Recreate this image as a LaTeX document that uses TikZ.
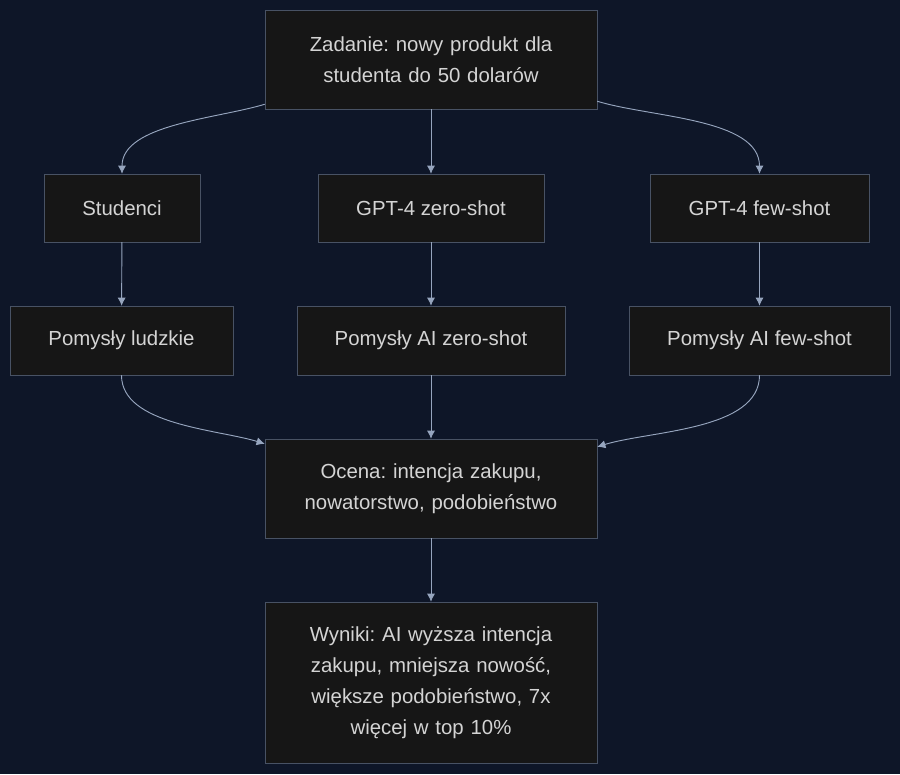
\documentclass[tikz,border=0pt]{standalone}
\usepackage{fontspec}
\setmainfont{Liberation Sans}
\usetikzlibrary{positioning,arrows.meta}
\definecolor{bgc}{RGB}{14,22,40}
\definecolor{boxc}{RGB}{22,22,22}
\definecolor{edgec}{RGB}{72,82,100}
\definecolor{txtc}{RGB}{212,212,212}
\definecolor{arrc}{RGB}{150,165,190}
\tikzset{>={Latex[length=7pt,width=7pt]},
  box/.style={draw=edgec,fill=boxc,text=txtc,inner sep=0pt,align=center,
    font=\fontsize{17.4}{26.5}\selectfont},
  link/.style={draw=arrc,line width=0.8pt,->}}
\begin{document}
\frenchspacing
\begin{tikzpicture}[x=0.03cm,y=-0.03cm]
  % background
  \fill[bgc] (0,0) rectangle (900,774);
  \useasboundingbox (0,0) rectangle (900,774);

  % Draw boxes
  \node[box,minimum width=9.96cm,minimum height=2.97cm,text width=8.5cm] (zad) at (431,59.5) {Zadanie: nowy produkt dla\\ studenta do 50 dolarów};
  \node[box,minimum width=4.68cm,minimum height=2.04cm] (stud) at (122,208) {Studenci};
  \node[box,minimum width=6.78cm,minimum height=2.04cm] (zero) at (431,208) {GPT-4 zero-shot};
  \node[box,minimum width=6.57cm,minimum height=2.04cm] (few) at (759.5,208) {GPT-4 few-shot};
  \node[box,minimum width=6.69cm,minimum height=2.07cm] (ludz) at (121.5,340.5) {Pomysły ludzkie};
  \node[box,minimum width=8.04cm,minimum height=2.07cm] (aiz) at (431,340.5) {Pomysły AI zero-shot};
  \node[box,minimum width=7.83cm,minimum height=2.07cm] (aif) at (759.5,340.5) {Pomysły AI few-shot};
  \node[box,minimum width=9.96cm,minimum height=2.97cm,text width=9cm] (oce) at (431,488.5) {Ocena: intencja zakupu,\\ nowatorstwo, podobieństwo};
  \node[box,minimum width=9.96cm,minimum height=4.83cm,text width=8.5cm] (wyn) at (431,682.5) {Wyniki: AI wyższa intencja\\ zakupu, mniejsza nowość,\\ większe podobieństwo, 7x\\ więcej w top 10\%};

  % Draw connectors
  \draw[link] ([yshift=0.15cm]zad.south west) to[out=-163,in=90,looseness=0.8] (stud.north);
  \draw[link] (zad) -- (zero);
  \draw[link] ([yshift=0.24cm]zad.south east) to[out=-17,in=90,looseness=0.8] (few.north);
  \draw[link] (stud) -- (ludz);
  \draw[link] (zero) -- (aiz);
  \draw[link] (few) -- (aif);
  \draw[link] (ludz.south) to[out=-90,in=163,looseness=0.8] ([yshift=-0.15cm]oce.north west);
  \draw[link] (aiz) -- (oce);
  \draw[link] (aif.south) to[out=-90,in=17,looseness=0.8] ([yshift=-0.24cm]oce.north east);
  \draw[link] (oce) -- (wyn);
\end{tikzpicture}
\end{document}
